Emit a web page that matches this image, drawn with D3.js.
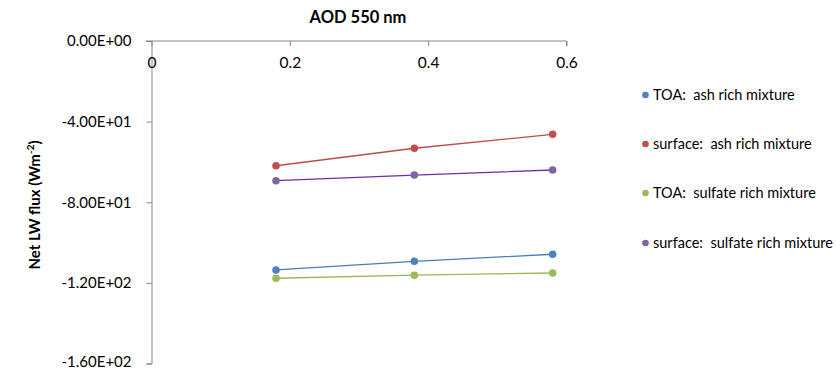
<!DOCTYPE html>
<html><head><meta charset="utf-8">
<script src="https://cdn.jsdelivr.net/npm/d3@7"></script>
<style>body{margin:0;background:#fff} text{white-space:pre}</style>
</head><body>
<svg id="c" width="836" height="369"></svg>
<script>
const aod = [0.18, 0.38, 0.58];
const toaAsh = [-113.6, -109.3, -105.8];
const surfAsh = [-61.9, -53.2, -46.3];
const toaSulf = [-117.7, -116.2, -115.1];
const surfSulf = [-69.3, -66.5, -64.0];
const seriesNames = ["TOA:  ash rich mixture", "surface:  ash rich mixture", "TOA:  sulfate rich mixture", "surface:  sulfate rich mixture"];
const seriesColors = ["#4F81BD", "#C0504D", "#9BBB59", "#8064A2"];
const lineColors = ["#4A7EBB", "#BE4B48", "#98B954", "#7030A0"];
const xTicks = [0, 0.2, 0.4, 0.6];
const yTicks = [0, -40, -80, -120, -160];
const xTitle = "AOD 550 nm";

const series = [toaAsh, surfAsh, toaSulf, surfSulf];
const svg = d3.select("#c");
const font = "Lato, 'Open Sans', sans-serif";
const x = d3.scaleLinear().domain([0, 0.6]).range([151.5, 566.5]);
const y = d3.scaleLinear().domain([0, -160]).range([41, 363.5]);

// y axis
const ya = svg.append("g").attr("transform", "translate(151.5,0)")
  .call(d3.axisLeft(y).tickValues(yTicks).tickSize(5).tickPadding(15)
    .tickFormat(d => { const s = d3.format(".2e")(d); return s.replace("e", "E").replace(/E([+-])(\d)$/, "E$10$2").replace("\u2212","-"); }));
ya.select(".domain").attr("stroke", "#868686");
ya.selectAll(".tick line").attr("stroke", "#868686");
ya.selectAll("text").attr("font-family", font).attr("font-size", 15).attr("fill", "#000");
ya.selectAll(".tick").filter(d => d === -160).select("text").attr("dy", "0.2em");

// x axis at top (y=0), ticks downward, labels below
const xa = svg.append("g").attr("transform", `translate(0,${y(0)})`)
  .call(d3.axisBottom(x).tickValues(xTicks).tickSize(5).tickPadding(11).tickFormat(d => d === 0 ? "0" : d3.format(".1f")(d)));
xa.select(".domain").attr("stroke", "#868686").attr("d", `M${x(0)-6},0H${x(0.6)}V5`);
xa.selectAll(".tick line").attr("stroke", "#868686");
xa.selectAll("text").attr("font-family", font).attr("font-size", 15.5).attr("fill", "#000");

// titles
svg.append("text").attr("x", 358).attr("y", 23).attr("text-anchor", "middle")
  .attr("font-family", font).attr("font-weight", "bold").attr("font-size", 16.5).text(xTitle);
const yt = svg.append("text").attr("transform", "translate(40,205) rotate(-90)").attr("text-anchor", "middle")
  .attr("font-family", font).attr("font-weight", "bold").attr("font-size", 15);
yt.append("tspan").text("Net LW flux (Wm");
yt.append("tspan").attr("font-size", 10).attr("dy", -6).text("-2");
yt.append("tspan").attr("dy", 6).text(")");

// series
const line = d3.line().x((d, i) => x(aod[i])).y(d => y(d));
series.forEach((s, k) => {
  svg.append("path").attr("d", line(s)).attr("fill", "none").attr("stroke", lineColors[k]).attr("stroke-width", 1.3);
  svg.selectAll(null).data(s).enter().append("circle")
    .attr("cx", (d, i) => x(aod[i])).attr("cy", d => y(d)).attr("r", 3.8).attr("fill", seriesColors[k]);
});

// legend
const ly = [95, 144, 193, 243];
seriesNames.forEach((n, k) => {
  svg.append("circle").attr("cx", 645.5).attr("cy", ly[k]).attr("r", 3.3).attr("fill", seriesColors[k]);
  svg.append("text").attr("x", 653).attr("y", ly[k] + 5).attr("font-family", font).attr("font-size", 14.5).text(n);
});
</script>
</body></html>
